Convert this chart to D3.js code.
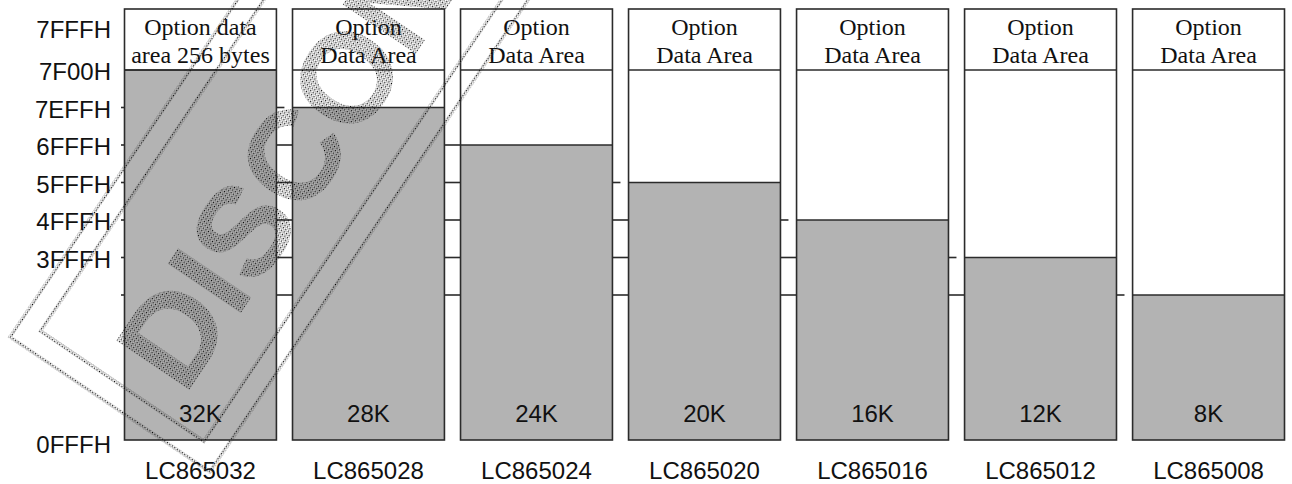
<!DOCTYPE html>
<html>
<head>
<meta charset="utf-8">
<script src="https://cdn.jsdelivr.net/npm/d3@7"></script>
<style>
  html, body { margin: 0; padding: 0; background: #fff; }
  svg { display: block; }
</style>
</head>
<body>
<svg id="chart" width="1292" height="484"></svg>
<script>
// ---------- data ----------
const models     = ["LC865032","LC865028","LC865024","LC865020","LC865016","LC865012","LC865008"];
const romKB      = [32, 28, 24, 20, 16, 12, 8];
const romLabels  = ["32K","28K","24K","20K","16K","12K","8K"];
const optLine1   = ["Option data","Option","Option","Option","Option","Option","Option"];
const optLine2   = ["area 256 bytes","Data Area","Data Area","Data Area","Data Area","Data Area","Data Area"];
const addrLabels = ["7FFFH","7F00H","7EFFH","6FFFH","5FFFH","4FFFH","3FFFH","0FFFH"];
const addrKB     = [32.175, 32, 28, 24, 20, 16, 12, -0.15];
const tickKB     = [28, 24, 20, 16, 12, 8];
const gapHalf    = [true, false, true, true, true, true];
const optionTopKB = 32.25;   // top of the option data area (drawn expanded)

// ---------- layout ----------
const svg = d3.select("#chart");
const x = d3.scaleBand().domain(models).range([124.5, 1284.5]).paddingInner(0.0958).paddingOuter(0);
const y = d3.scaleLinear().domain([0, 8, 32, optionTopKB]).range([440, 295, 70, 9]);
const bw = x.bandwidth();
const LINE = "#2b2b2b";
const SANS = "'Liberation Sans', Arial, Helvetica, sans-serif";
const SERIF = "'Liberation Serif', 'Times New Roman', serif";

// gap connector lines
const gapG = svg.append("g");
models.slice(0, -1).forEach((m, i) => {
  const x0 = x(m) + bw;
  const x1 = x(models[i + 1]);
  const next = romKB[i + 1];
  tickKB.filter(k => k <= next).forEach(k => {
    const half = (k === next) && gapHalf[i];
    gapG.append("line")
      .attr("x1", x0).attr("x2", half ? x0 + 8 : x1)
      .attr("y1", y(k)).attr("y2", y(k))
      .attr("stroke", LINE).attr("stroke-width", 1.6);
  });
});

// columns
const col = svg.selectAll("g.col").data(models).join("g").attr("class", "col");
col.append("rect")
  .attr("x", d => x(d)).attr("y", y(optionTopKB))
  .attr("width", bw).attr("height", y(0) - y(optionTopKB))
  .attr("fill", "#fff");
col.append("rect")
  .attr("x", d => x(d)).attr("y", (d, i) => y(romKB[i]))
  .attr("width", bw).attr("height", (d, i) => y(0) - y(romKB[i]))
  .attr("fill", "#b3b3b3");
col.append("line")
  .attr("x1", d => x(d)).attr("x2", d => x(d) + bw)
  .attr("y1", y(32)).attr("y2", y(32))
  .attr("stroke", LINE).attr("stroke-width", 1.6);
col.append("line")
  .attr("x1", d => x(d)).attr("x2", d => x(d) + bw)
  .attr("y1", (d, i) => y(romKB[i])).attr("y2", (d, i) => y(romKB[i]))
  .attr("stroke", LINE).attr("stroke-width", 1.6);
col.append("rect")
  .attr("x", d => x(d)).attr("y", y(optionTopKB))
  .attr("width", bw).attr("height", y(0) - y(optionTopKB))
  .attr("fill", "none").attr("stroke", LINE).attr("stroke-width", 1.6);

col.append("text")
  .attr("x", d => x(d) + bw / 2).attr("y", 35)
  .attr("text-anchor", "middle").attr("font-family", SERIF).attr("font-size", 24)
  .attr("fill", "#111")
  .text((d, i) => optLine1[i]);
col.append("text")
  .attr("x", d => x(d) + bw / 2).attr("y", 63)
  .attr("text-anchor", "middle").attr("font-family", SERIF).attr("font-size", 24)
  .attr("fill", "#111")
  .text((d, i) => optLine2[i]);

col.append("text")
  .attr("x", d => x(d) + bw / 2).attr("y", 422)
  .attr("text-anchor", "middle").attr("font-family", SANS).attr("font-size", 24)
  .attr("fill", "#111")
  .text((d, i) => romLabels[i]);

col.append("text")
  .attr("x", d => x(d) + bw / 2).attr("y", 479)
  .attr("text-anchor", "middle").attr("font-family", SANS).attr("font-size", 24)
  .attr("fill", "#111")
  .text(d => d);

// address axis
const ax = svg.append("g");
tickKB.forEach(k => {
  ax.append("line")
    .attr("x1", x(models[0]) - 3.5).attr("x2", x(models[0]))
    .attr("y1", y(k)).attr("y2", y(k))
    .attr("stroke", LINE).attr("stroke-width", 1.6);
});
ax.selectAll("text").data(addrLabels).join("text")
  .attr("x", 111).attr("y", (d, i) => y(addrKB[i]) + 10.3)
  .attr("text-anchor", "end").attr("font-family", SANS).attr("font-size", 24)
  .attr("fill", "#111")
  .text(d => d);

// ---------- "DISCONTINUED" stamp watermark ----------
const defs = svg.append("defs");
const pat = defs.append("pattern").attr("id", "stip")
  .attr("patternUnits", "userSpaceOnUse").attr("width", 3).attr("height", 3);
pat.append("rect").attr("x", 0).attr("y", 0).attr("width", 1).attr("height", 1).attr("fill", "#000");
pat.append("rect").attr("x", 1.5).attr("y", 1.5).attr("width", 1).attr("height", 1).attr("fill", "#333");
pat.append("rect").attr("x", 2).attr("y", 0.5).attr("width", 0.8).attr("height", 0.8).attr("fill", "#666");

const stamp = svg.append("g")
  .attr("transform", "translate(10,337) rotate(-56)");
stamp.append("rect")
  .attr("x", 0).attr("y", 0).attr("width", 1000).attr("height", 241)
  .attr("fill", "none").attr("stroke", "url(#stip)").attr("stroke-width", 3.5);
stamp.append("rect")
  .attr("x", 22).attr("y", 22).attr("width", 960).attr("height", 197)
  .attr("fill", "none").attr("stroke", "url(#stip)").attr("stroke-width", 3.5);
stamp.append("text")
  .attr("x", 48).attr("y", 178)
  .attr("font-family", SANS).attr("font-weight", "bold").attr("font-size", 128)
  .attr("fill", "url(#stip)")
  .text("DISCONTINUED");
</script>
</body>
</html>
